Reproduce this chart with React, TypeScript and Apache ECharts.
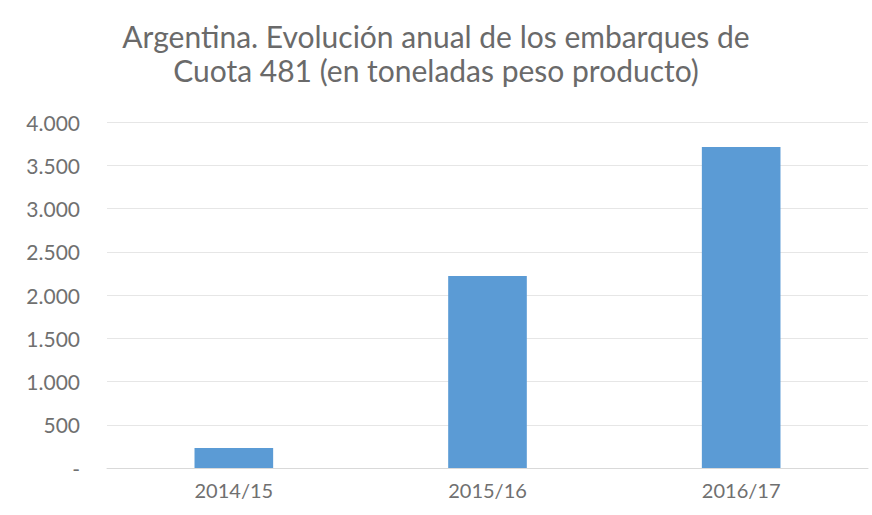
import React, { useEffect, useRef } from "react";
import * as echarts from "echarts";

const categories = ["2014/15", "2015/16", "2016/17"];
const values = [230, 2220, 3710];
const titleLines = ["Argentina. Evolución anual de los embarques de", "Cuota 481 (en toneladas peso producto)"];

export default function App() {
  const ref = useRef<HTMLDivElement>(null);
  useEffect(() => {
    const chart = echarts.init(ref.current!, null, { renderer: "svg" });
    chart.setOption({
      animation: false,
      backgroundColor: "#ffffff",
      title: {
        text: titleLines.join("\n"),
        left: "center",
        top: 14,
        textStyle: {
          fontFamily: "Lato",
          fontWeight: "normal",
          fontSize: 30,
          color: "#6a6a6a",
          lineHeight: 34,
        },
      },
      grid: { left: 107, right: 4, top: 122, bottom: 47 },
      xAxis: {
        type: "category",
        data: categories,
        axisLine: { lineStyle: { color: "#d9d9d9" } },
        axisTick: { show: false },
        axisLabel: { color: "#707070", fontSize: 20, fontFamily: "Lato", margin: 12 },
      },
      yAxis: {
        type: "value",
        min: 0,
        max: 4000,
        interval: 500,
        axisLine: { show: false },
        axisTick: { show: false },
        splitLine: { lineStyle: { color: "#e6e6e6" } },
        axisLabel: {
          color: "#707070",
          fontSize: 21,
          fontFamily: "Lato",
          margin: 27,
          formatter: (v: number) => (v === 0 ? "-" : v.toLocaleString("de-DE")),
        },
      },
      series: [
        {
          type: "bar",
          data: values,
          barWidth: "31%",
          itemStyle: { color: "#5b9bd5" },
        },
      ],
    });
    return () => chart.dispose();
  }, []);
  return <div ref={ref} style={{ width: 872, height: 515, position: "absolute", left: 0, top: 0 }} />;
}
